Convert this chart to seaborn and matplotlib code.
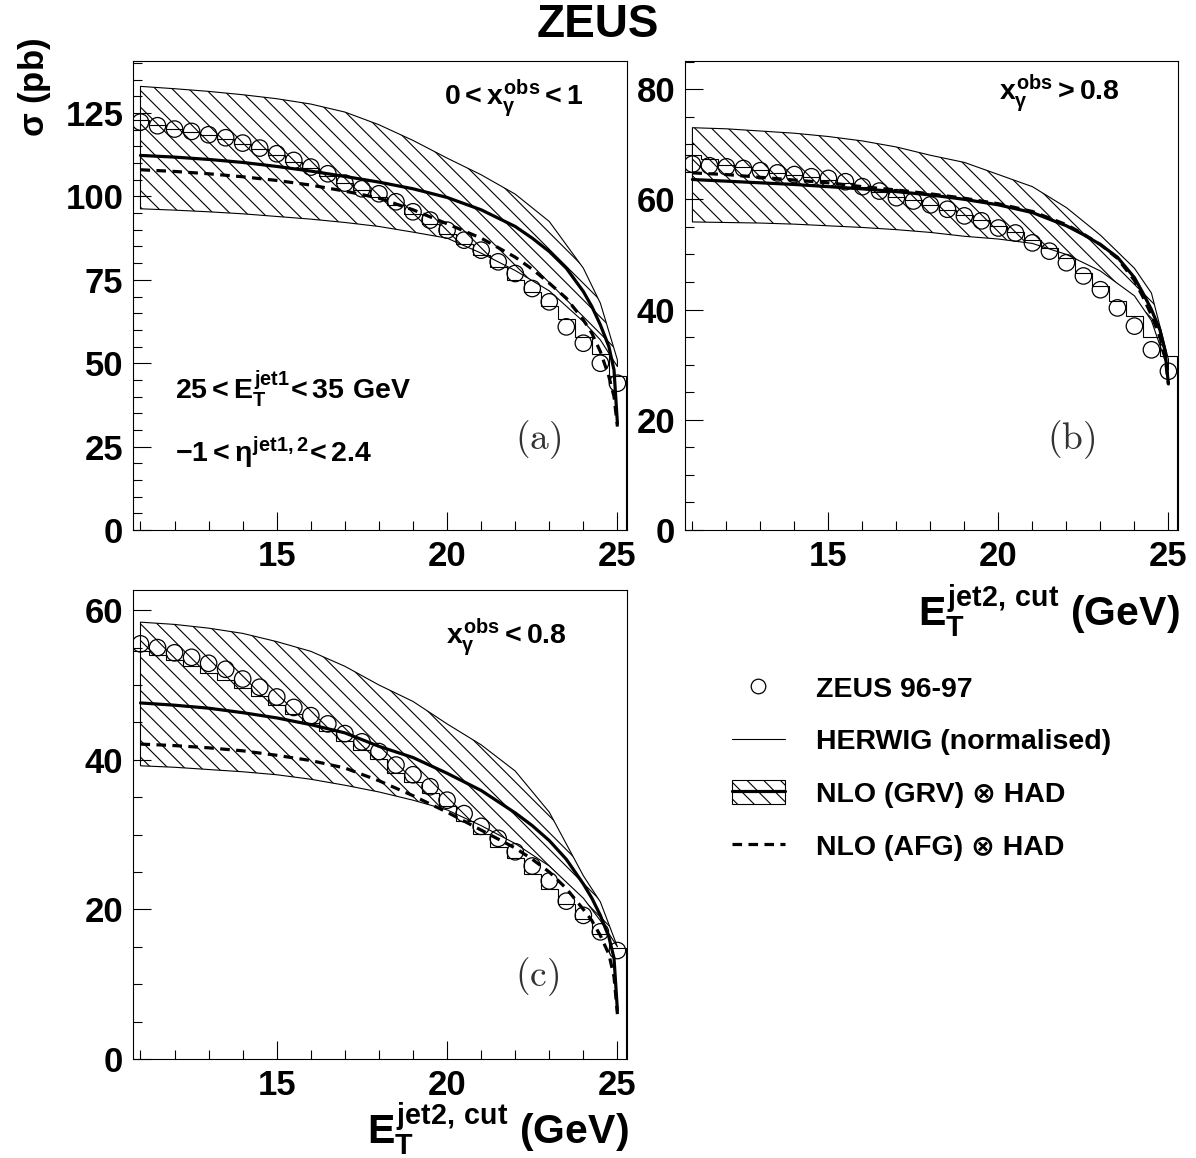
import matplotlib
matplotlib.use("Agg")
import matplotlib.pyplot as plt
import numpy as np
import seaborn as sns
from matplotlib.ticker import MultipleLocator
from matplotlib.lines import Line2D
from matplotlib.patches import Patch
from matplotlib.font_manager import FontProperties

# Data
# measurement bin centres (GeV) and the NLO / band evaluation points
et_cut = [11.0, 11.5, 12.0, 12.5, 13.0, 13.5, 14.0, 14.5, 15.0, 15.5, 16.0, 16.5, 17.0, 17.5,
          18.0, 18.5, 19.0, 19.5, 20.0, 20.5, 21.0, 21.5, 22.0, 22.5, 23.0, 23.5, 24.0, 24.5, 25.0]
curve_x = [11, 12, 13, 14, 15, 16, 17, 18, 19, 20, 21, 22, 22.5, 23, 23.5, 24, 24.25, 24.5, 24.75, 24.9, 25]
band_x = [11, 12, 13, 14, 15, 16, 17, 18, 19, 20, 21, 22, 23, 24, 24.5, 25]

# (a) 0 < x_gamma^obs < 1
zeus_a = [122.3, 121.2, 120.2, 119.5, 118.5, 117.6, 116.0, 114.5, 112.8, 110.8, 108.8, 106.8, 104.0, 102.3,
          100.8, 98.4, 95.4, 92.9, 89.9, 86.9, 83.9, 80.4, 76.9, 72.4, 68.4, 60.9, 56.0, 50.0, 44.0]
herwig_a = [122.8, 121.3, 120.2, 119.3, 118.3, 117.2, 115.8, 114.2, 112.4, 110.4, 108.4, 106.2, 104.0, 101.8,
            99.8, 97.3, 94.6, 91.8, 88.8, 85.6, 82.3, 78.8, 75.0, 71.5, 67.2, 63.3, 58.0, 52.8, 46.3]
grv_a = [112.3, 111.8, 111.1, 110.2, 109.0, 107.6, 106.0, 104.3, 102.3, 99.7, 96.0, 91.0, 87.5, 83.5,
         78.5, 71.5, 67.0, 61.5, 55.0, 48.0, 32.0]
afg_a = [108.0, 107.5, 106.8, 105.9, 104.8, 103.4, 101.6, 99.5, 96.0, 91.8, 87.5, 81.8, 78.2, 74.0,
         69.5, 63.0, 59.0, 53.5, 46.0, 40.0, 31.0]
band_hi_a = [133.0, 132.3, 131.5, 130.5, 129.3, 127.7, 125.3, 121.5, 116.8, 111.5, 106.5, 100.7, 92.5, 78.5, 68.0, 51.0]
band_lo_a = [96.3, 95.9, 95.4, 94.8, 94.0, 93.2, 92.2, 91.0, 89.3, 87.5, 83.0, 77.8, 71.7, 62.5, 57.0, 49.0]

# (b) x_gamma^obs > 0.8
zeus_b = [66.4, 66.1, 65.9, 65.6, 65.2, 64.8, 64.5, 64.1, 63.8, 63.2, 62.3, 61.5, 60.3, 59.7,
          59.0, 58.2, 57.0, 56.1, 54.8, 53.9, 52.1, 50.6, 48.5, 46.1, 43.6, 40.3, 37.0, 32.7, 28.8]
herwig_b = [68.0, 67.3, 66.3, 65.8, 65.3, 64.8, 64.4, 64.0, 63.5, 62.9, 62.2, 61.4, 60.5, 59.8,
            59.0, 58.1, 57.2, 56.3, 55.2, 54.1, 52.7, 51.2, 49.4, 46.7, 44.2, 41.5, 38.8, 35.1, 31.5]
grv_b = [63.6, 63.3, 63.0, 62.7, 62.3, 61.9, 61.4, 60.8, 60.0, 59.0, 57.6, 55.2, 53.6, 51.8,
         49.5, 45.8, 43.0, 40.0, 36.3, 32.5, 26.5]
afg_b = [64.8, 64.5, 64.0, 63.5, 63.0, 62.3, 61.7, 61.0, 60.2, 59.2, 57.8, 55.4, 53.7, 51.8,
         49.3, 45.3, 42.3, 39.0, 35.0, 31.5, 26.5]
band_hi_b = [73.0, 72.8, 72.4, 72.0, 71.4, 70.6, 69.5, 68.0, 66.7, 64.5, 62.3, 58.5, 53.5, 47.5, 43.0, 31.0]
band_lo_b = [55.9, 55.8, 55.7, 55.5, 55.2, 54.9, 54.5, 54.0, 53.3, 52.8, 52.0, 50.0, 47.0, 42.5, 38.0, 29.0]

# (c) x_gamma^obs < 0.8
zeus_c = [55.5, 55.0, 54.3, 53.7, 52.9, 52.1, 50.8, 49.7, 48.4, 47.0, 45.9, 44.8, 43.5, 42.4,
          41.1, 39.3, 38.0, 36.4, 34.6, 32.8, 31.1, 29.5, 27.7, 25.8, 23.8, 21.1, 19.2, 17.0, 14.5]
herwig_c = [54.6, 54.0, 53.3, 52.5, 51.6, 50.7, 49.6, 48.5, 47.3, 46.1, 44.9, 43.8, 42.5, 41.3,
            40.1, 38.2, 37.0, 35.5, 33.8, 31.8, 30.1, 28.3, 26.9, 24.7, 22.7, 20.7, 18.7, 16.7, 14.9]
grv_c = [47.6, 47.3, 46.9, 46.3, 45.6, 44.7, 43.6, 41.8, 40.3, 38.2, 35.9, 32.9, 31.2, 29.2,
         26.7, 23.4, 21.5, 19.2, 16.3, 13.5, 6.5]
afg_c = [42.1, 41.9, 41.6, 41.2, 40.6, 39.9, 38.9, 37.2, 35.2, 33.0, 30.6, 28.2, 26.7, 25.0,
         22.8, 20.0, 18.5, 16.5, 14.0, 11.0, 6.0]
band_hi_c = [58.4, 58.1, 57.6, 56.9, 55.8, 54.5, 52.5, 50.0, 47.8, 44.8, 42.0, 38.5, 33.0, 24.5, 21.0, 15.0]
band_lo_c = [39.2, 39.0, 38.7, 38.4, 38.0, 37.4, 36.6, 35.7, 34.6, 33.3, 31.2, 28.8, 25.8, 21.5, 18.5, 15.0]

legend_labels = ["ZEUS 96-97", "HERWIG (normalised)", "NLO (GRV) \u2297 HAD", "NLO (AFG) \u2297 HAD"]

# Style
sns.set_theme(style="ticks")
plt.rcParams["font.family"] = ["Liberation Sans", "DejaVu Sans"]
plt.rcParams["font.weight"] = "bold"
plt.rcParams["mathtext.fontset"] = "custom"
plt.rcParams["mathtext.rm"] = "Liberation Sans:bold"
plt.rcParams["mathtext.it"] = "Liberation Sans:bold"
plt.rcParams["mathtext.bf"] = "Liberation Sans:bold"
plt.rcParams["hatch.linewidth"] = 0.8
for key in ["text.color", "axes.labelcolor", "xtick.color", "ytick.color", "axes.edgecolor"]:
    plt.rcParams[key] = "black"
plt.rcParams["axes.linewidth"] = 0.8

LW_THICK = 2.3
DASH = (0, (3, 2))
HATCH = "\\\\"


def draw_panel(ax, zeus, herwig, grv, afg, band_hi, band_lo, ytop, ymajor):
    # NLO uncertainty band
    ax.fill_between(band_x, band_lo, band_hi, facecolor="none", edgecolor="black",
                    hatch=HATCH, linewidth=0.8, zorder=1)
    # HERWIG histogram
    edges = np.concatenate([np.array(et_cut) - 0.25, [et_cut[-1] + 0.25]])
    ax.stairs(herwig, edges, color="black", linewidth=0.8, zorder=2)
    # NLO curves
    sns.lineplot(x=curve_x, y=grv, ax=ax, color="black", linewidth=LW_THICK,
                 estimator=None, sort=False, zorder=3)
    sns.lineplot(x=curve_x, y=afg, ax=ax, color="black", linewidth=LW_THICK,
                 linestyle=DASH, estimator=None, sort=False, zorder=3)
    # data
    sns.scatterplot(x=et_cut, y=zeus, ax=ax, marker="o", s=140, facecolor="none",
                    edgecolor="black", linewidth=0.9, zorder=4)

    ax.set_xlim(10.78, 25.28)
    ax.set_ylim(0, ytop)
    ax.xaxis.set_major_locator(MultipleLocator(5))
    ax.xaxis.set_minor_locator(MultipleLocator(1))
    ax.yaxis.set_major_locator(MultipleLocator(ymajor))
    ax.yaxis.set_minor_locator(MultipleLocator(5))
    ax.tick_params(which="both", direction="in", top=False, right=False,
                   labelsize=25, width=0.8, color="black", labelcolor="black", pad=7)
    ax.tick_params(which="major", length=13)
    ax.tick_params(which="minor", length=6.5)
    for s in ax.spines.values():
        s.set_visible(True)
        s.set_color("black")
        s.set_linewidth(0.8)
    ax.set_xlabel("")
    ax.set_ylabel("")


fig = plt.figure(figsize=(11.96, 11.58), dpi=100)
ax_a = fig.add_axes([0.1112, 0.5423, 0.4130, 0.4050])
ax_b = fig.add_axes([0.5727, 0.5423, 0.4122, 0.4050])
ax_c = fig.add_axes([0.1112, 0.0855, 0.4130, 0.4050])

draw_panel(ax_a, zeus_a, herwig_a, grv_a, afg_a, band_hi_a, band_lo_a, 140.6, 25)
draw_panel(ax_b, zeus_b, herwig_b, grv_b, afg_b, band_hi_b, band_lo_b, 85.1, 20)
draw_panel(ax_c, zeus_c, herwig_c, grv_c, afg_c, band_hi_c, band_lo_c, 62.7, 20)

# panel annotations
ann = dict(fontsize=20.5, fontweight="bold", color="black")
ax_a.text(0.772, 0.92, r"$0 < x_{\gamma}^{obs} < 1$", transform=ax_a.transAxes,
          ha="center", va="center", **ann)
ax_a.text(0.085, 0.30, r"$25 < E_{T}^{jet1}\!< 35\ GeV$", transform=ax_a.transAxes,
          ha="left", va="center", **ann)
ax_a.text(0.085, 0.164, r"$-1 < \eta^{jet1,2}\!< 2.4$", transform=ax_a.transAxes,
          ha="left", va="center", **ann)
ax_b.text(0.76, 0.932, r"$x_{\gamma}^{obs} > 0.8$", transform=ax_b.transAxes,
          ha="center", va="center", **ann)
ax_c.text(0.755, 0.90, r"$x_{\gamma}^{obs} < 0.8$", transform=ax_c.transAxes,
          ha="center", va="center", **ann)

for ax, tag, (px, py) in [(ax_a, "(a)", (0.82, 0.192)), (ax_b, "(b)", (0.783, 0.192)),
                          (ax_c, "(c)", (0.818, 0.175))]:
    ax.text(px, py, r"$\mathrm{%s}$" % tag, transform=ax.transAxes, ha="center", va="center",
            fontsize=27, color="#333333", math_fontfamily="cm")

# axis titles
fig.text(0.029, 1 - 38 / 1158, r"$\sigma$ (pb)", rotation=90, ha="center", va="top",
         fontsize=25, fontweight="bold")
xlab = r"$E_{T}^{jet2,\,cut}$ (GeV)"
fig.text(1180 / 1196, 1 - 626 / 1158, xlab, ha="right", va="baseline", fontsize=29.5, fontweight="bold")
fig.text(629 / 1196, 1 - 1144 / 1158, xlab, ha="right", va="baseline", fontsize=29.5, fontweight="bold")

fig.text(0.5, 1 - 25 / 1158, "ZEUS", ha="center", va="center", fontsize=33, fontweight="bold")

# legend
h_data = Line2D([], [], ls="none", marker="o", ms=10.5, mfc="none", mec="black", mew=0.9)
h_herwig = Line2D([], [], color="black", lw=0.8)
h_grv = (Patch(facecolor="none", edgecolor="black", hatch=HATCH, lw=0.8),
         Line2D([], [], color="black", lw=LW_THICK))
h_afg = Line2D([], [], color="black", lw=LW_THICK, ls=DASH)
prop = FontProperties(family=["Liberation Sans", "DejaVu Sans"], weight="bold", size=20.5)
fig.legend([h_data, h_herwig, h_grv, h_afg], legend_labels, loc="upper left",
           bbox_to_anchor=(732 / 1196, 1 - 675 / 1158), frameon=False, prop=prop,
           handlelength=1.86, handleheight=0.9, handletextpad=1.1, labelspacing=0.88,
           borderpad=0, borderaxespad=0)

fig.savefig("out.png", dpi=100)
